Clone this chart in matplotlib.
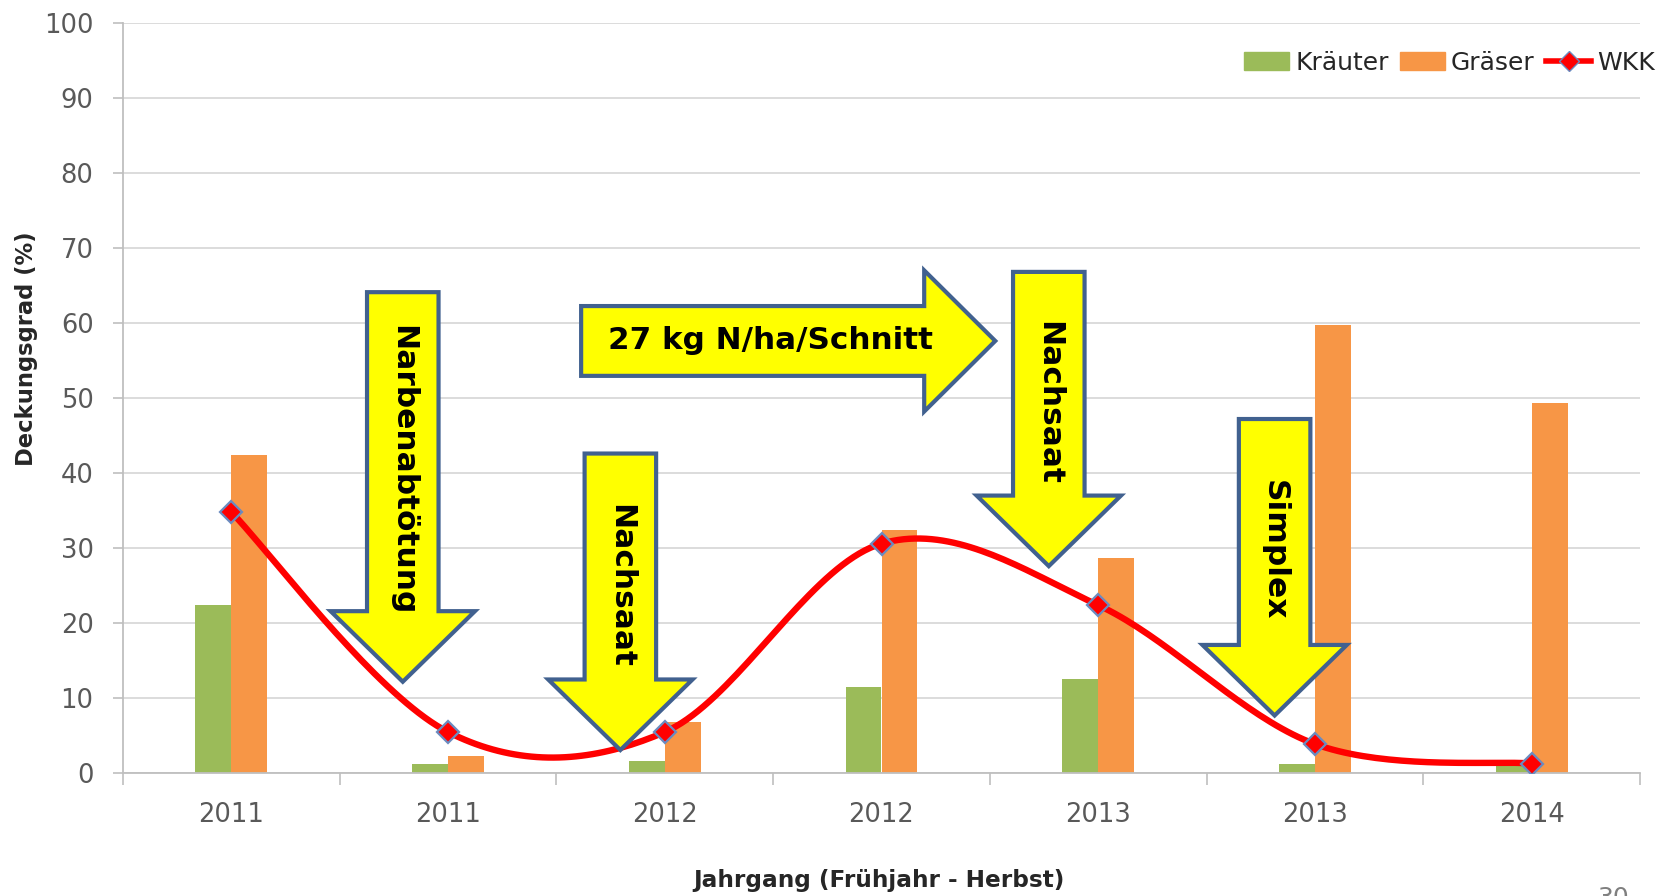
"""
Deckungsgrad von Kräutern, Gräsern und WKK (2011-2014) mit Maßnahmen-Pfeilen.
"""
import numpy as np
import matplotlib
matplotlib.use('Agg')
import matplotlib.pyplot as plt
from matplotlib.patches import Polygon, Patch
from matplotlib.lines import Line2D

# Daten
jahrgang = ['2011', '2011', '2012', '2012', '2013', '2013', '2014']
kraeuter = [22.4, 1.3, 1.7, 11.5, 12.5, 1.3, 1.0]
graeser = [42.4, 2.3, 6.9, 32.4, 28.7, 59.7, 49.4]
wkk = [34.8, 5.5, 5.5, 30.6, 22.4, 3.9, 1.3]

# Pfeile nach unten: (Text, Mitte x, oben, Spitze, Text-y)
pfeile_unten = [
    ('Narbenabtötung', 0.791, 64.1, 12.2, 40.4),
    ('Nachsaat', 1.795, 42.6, 3.1, 25.0),
    ('Nachsaat', 3.772, 66.8, 27.6, 49.4),
    ('Simplex', 4.814, 47.2, 7.7, 29.7),
]
pfeil_rechts = ('27 kg N/ha/Schnitt', 1.614, 3.197, 3.525, 57.6)

GRUEN = '#9BBB59'
ORANGE = '#F79646'
ROT = '#FF0000'
GELB = '#FFFF00'
RAND = '#41618F'
GRAU = '#595959'


def spline(y, n=40):
    """Catmull-Rom-Glättung wie in Excel (Bezier-Segmente)."""
    x = np.arange(len(y), dtype=float)
    pts = np.column_stack([x, y])
    xs, ys = [], []
    t = np.linspace(0, 1, n)
    for i in range(len(pts) - 1):
        p0 = pts[max(i - 1, 0)]
        p1 = pts[i]
        p2 = pts[i + 1]
        p3 = pts[min(i + 2, len(pts) - 1)]
        c1 = p1 + (p2 - p0) / 6
        c2 = p2 - (p3 - p1) / 6
        b = (((1 - t) ** 3)[:, None] * p1 + (3 * (1 - t) ** 2 * t)[:, None] * c1
             + (3 * (1 - t) * t ** 2)[:, None] * c2 + (t ** 3)[:, None] * p2)
        xs.extend(b[:, 0])
        ys.extend(b[:, 1])
    return np.array(xs), np.array(ys)


fig = plt.figure(figsize=(16.6, 8.96), dpi=100)
ax = fig.add_axes([123 / 1660, 1 - 773.3 / 896, (1640 - 123) / 1660, (773.3 - 22.7) / 896])

x = np.arange(len(jahrgang))
b = 0.166
ax.bar(x - b / 2, kraeuter, width=b, color=GRUEN, zorder=2)
ax.bar(x + b / 2, graeser, width=b, color=ORANGE, zorder=2)

sx, sy = spline(wkk)
ax.plot(sx, sy, color=ROT, lw=4.6, zorder=3, solid_capstyle='round')
ax.plot(x, wkk, ls='none', marker='D', ms=11, mfc=ROT, mec='#6A8BC0', mew=1.6, zorder=4)

# Achsen
ax.set_xlim(-0.5, len(jahrgang) - 0.5)
ax.set_ylim(0, 100)
ax.set_yticks(np.arange(0, 101, 10))
ax.set_xticks(x)
ax.set_xticklabels(jahrgang)
ax.set_xticks(np.arange(-0.5, len(jahrgang), 1), minor=True)
ax.tick_params(axis='y', length=7.2, width=1.2, color='#bfbfbf', labelsize=18.5,
               labelcolor=GRAU, pad=14)
ax.tick_params(axis='x', which='major', length=0, labelsize=18.5, labelcolor=GRAU, pad=21)
ax.tick_params(axis='x', which='minor', length=8.6, width=1.2, color='#bfbfbf')
ax.yaxis.grid(True, color='#d9d9d9', lw=1.3, zorder=0)
ax.set_axisbelow(True)
for s in ['top', 'right']:
    ax.spines[s].set_visible(False)
for s in ['left', 'bottom']:
    ax.spines[s].set_color('#bfbfbf')
    ax.spines[s].set_linewidth(1.3)

fig.text(26 / 1660, 1 - 349 / 896, 'Deckungsgrad (%)', rotation=90, ha='center', va='center',
         fontsize=16.3, fontweight='bold', color='#262626')
fig.text(879 / 1660, 1 - 880 / 896, 'Jahrgang (Frühjahr - Herbst)', ha='center', va='center',
         fontsize=16.7, fontweight='bold', color='#262626')
fig.text(1597 / 1660, 1 - 886 / 896, '30', ha='left', va='top', fontsize=18, color='#7f7f7f')

# Pfeile
schaft = 0.165
kopf = 0.333
tiefe = 9.4
for text, cx, oben, spitze, ty in pfeile_unten:
    basis = spitze + tiefe
    pts = [(cx - schaft, oben), (cx + schaft, oben), (cx + schaft, basis), (cx + kopf, basis),
           (cx, spitze), (cx - kopf, basis), (cx - schaft, basis)]
    ax.add_patch(Polygon(pts, closed=True, fc=GELB, ec=RAND, lw=3, zorder=6, joinstyle='miter'))
    ax.text(cx, ty, text, rotation=-90, ha='center', va='center', fontsize=22.5,
            fontweight='bold', color='black', zorder=7)

text, links, basis_x, spitze_x, cy = pfeil_rechts
h1, h2 = 4.65, 9.4
pts = [(links, cy + h1), (basis_x, cy + h1), (basis_x, cy + h2), (spitze_x, cy),
       (basis_x, cy - h2), (basis_x, cy - h1), (links, cy - h1)]
ax.add_patch(Polygon(pts, closed=True, fc=GELB, ec=RAND, lw=3, zorder=6, joinstyle='miter'))
ax.text(2.489, cy, text, ha='center', va='center', fontsize=22.3, fontweight='bold',
        color='black', zorder=7)

# Legende
handles = [Patch(color=GRUEN, label='Kräuter'),
           Patch(color=ORANGE, label='Gräser'),
           Line2D([], [], color=ROT, lw=4, marker='D', ms=10, mfc=ROT, mec='#6A8BC0',
                  label='WKK')]
leg = fig.legend(handles=handles, loc='upper right', bbox_to_anchor=(1655 / 1660, 1 - 51 / 896),
                 ncol=3, frameon=False, fontsize=18, handlelength=1.8, handleheight=0.75,
                 handletextpad=0.25, columnspacing=0.45, borderpad=0, borderaxespad=0)
for t in leg.get_texts():
    t.set_color('#262626')

plt.savefig('out.png', dpi=100)
